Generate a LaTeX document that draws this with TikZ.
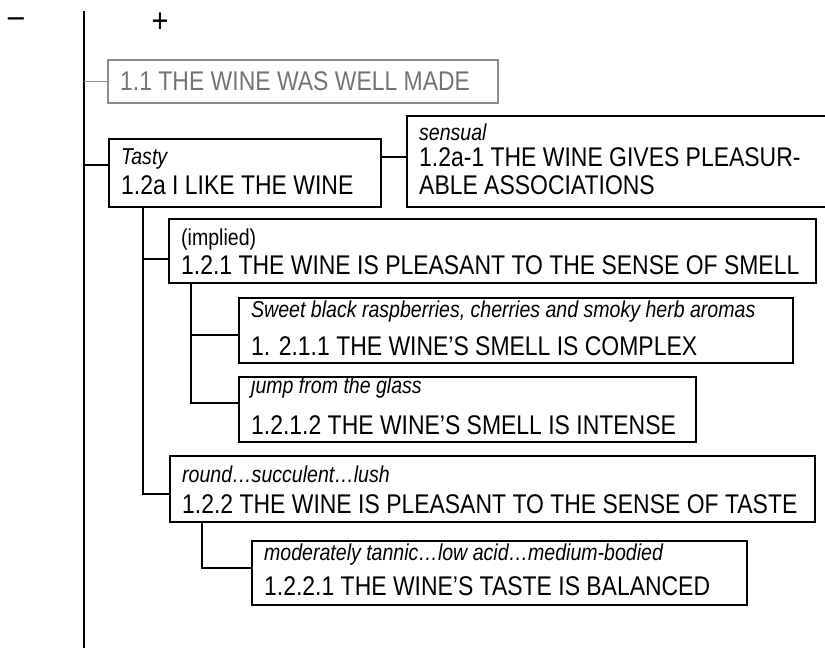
\documentclass[tikz,border=0pt]{standalone}
\usepackage{fontspec}
\setmainfont[FakeStretch=0.85]{Liberation Sans}
\begin{document}
\begin{tikzpicture}[x=1pt,y=-1pt,
  box/.style={draw, line width=1.4pt, inner sep=0pt, outer sep=0pt, anchor=north west},
  graybox/.style={box, draw=black!45, line width=1.2pt},
  main/.style={anchor=base west, inner sep=0pt, font=\fontsize{27}{30}\selectfont},
  note/.style={anchor=base west, inner sep=0pt, font=\fontsize{23}{25}\selectfont\itshape},
  plain/.style={anchor=base west, inner sep=0pt, font=\fontsize{23}{25}\selectfont},
  link/.style={line width=1.4pt},
  sign/.style={inner sep=0pt, font=\fontsize{34}{36}\selectfont}]
\useasboundingbox (0,0) rectangle (825,648);
\clip (0,0) rectangle (825,648);

% signs and main axis
\node[sign] (minus) at (16,23) {–};
\node[sign] (plus) at (160,23) {+};
\coordinate (top) at (84,11);
\coordinate (bot) at (84,650);
\draw[line width=1.8pt] (top) -- (bot);

% boxes
\node[graybox, minimum width=390pt, minimum height=43pt] (b11) at (108,60) {};
\node[box, minimum width=272pt, minimum height=68pt] (b12a) at (109,139) {};
\node[box, minimum width=430pt, minimum height=91pt] (b12a1) at (407,116) {};
\node[box, minimum width=647pt, minimum height=64pt] (b121) at (169,219) {};
\node[box, minimum width=554pt, minimum height=65pt] (b1211) at (239,298) {};
\node[box, minimum width=457pt, minimum height=65pt] (b1212) at (239,377) {};
\node[box, minimum width=645pt, minimum height=66pt] (b122) at (170,456) {};
\node[box, minimum width=495pt, minimum height=64pt] (b1221) at (252,541) {};

% texts
\node[main, text=black!55] (t11) at (120,90) {1.1 THE WINE WAS WELL MADE};
\node[note] (t12an) at (121,164) {Tasty};
\node[main] (t12a) at (121,194) {1.2a I LIKE THE WINE};
\node[note] (t12a1n) at (419,140) {sensual};
\node[main] (t12a1a) at (419,166) {1.2a-1 THE WINE GIVES PLEASUR-};
\node[main] (t12a1b) at (419,194) {ABLE ASSOCIATIONS};
\node[plain] (t121n) at (181,245) {(implied)};
\node[main] (t121) at (181,274) {1.2.1 THE WINE IS PLEASANT TO THE SENSE OF SMELL};
\node[note] (t1211n) at (251,317) {Sweet black raspberries, cherries and smoky herb aromas};
\node[main] (t1211) at (251,355) {1. 2.1.1 THE WINE’S SMELL IS COMPLEX};
\node[note] (t1212n) at (251,393) {jump from the glass};
\node[main] (t1212) at (251,434) {1.2.1.2 THE WINE’S SMELL IS INTENSE};
\node[note] (t122n) at (182,482) {round…succulent…lush};
\node[main] (t122) at (182,513) {1.2.2 THE WINE IS PLEASANT TO THE SENSE OF TASTE};
\node[note] (t1221n) at (264,560) {moderately tannic…low acid…medium-bodied};
\node[main] (t1221) at (264,595) {1.2.2.1 THE WINE’S TASTE IS BALANCED};

% connectors
\draw[link, draw=black!45, line width=1.2pt] (b11.west -| top) -- (b11.west);
\coordinate (j12a) at ([yshift=-26pt]b12a.north west);
\draw[link] (j12a -| top) -- (j12a);
\coordinate (j12a1) at ([yshift=-18pt]b12a.north east);
\draw[link] (j12a1) -- (j12a1 -| b12a1.west);

\coordinate (s12a) at ([xshift=34pt]b12a.south west);
\coordinate (j121) at ([yshift=-40pt]b121.north west);
\coordinate (j122) at ([yshift=-38pt]b122.north west);
\draw[link] (s12a) |- (j122);
\draw[link] (s12a |- j121) -- (j121);

\coordinate (s121) at ([xshift=22pt]b121.south west);
\coordinate (j1211) at ([yshift=-37pt]b1211.north west);
\coordinate (j1212) at ([yshift=-26pt]b1212.north west);
\draw[link] (s121) |- (j1212);
\draw[link] (s121 |- j1211) -- (j1211);

\coordinate (s122) at ([xshift=32pt]b122.south west);
\coordinate (j1221) at ([yshift=-27pt]b1221.north west);
\draw[link] (s122) |- (j1221);
\end{tikzpicture}
\end{document}
